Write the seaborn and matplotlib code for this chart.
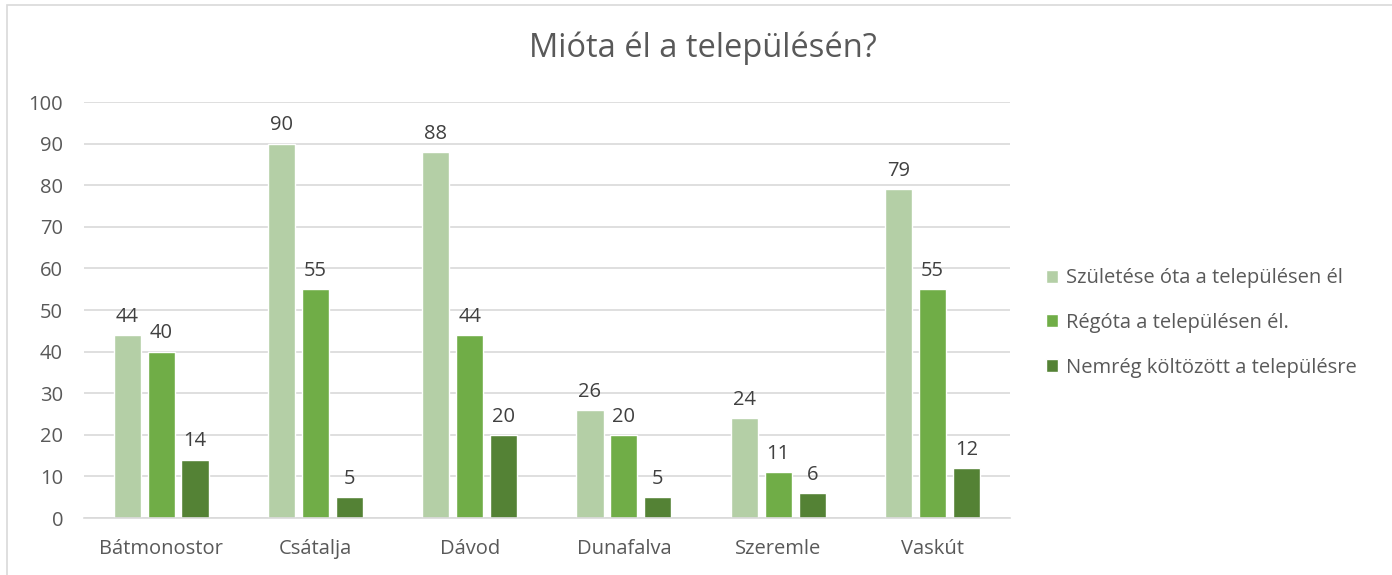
import matplotlib
matplotlib.use("Agg")
import matplotlib.pyplot as plt
import seaborn as sns
import pandas as pd
from matplotlib.patches import Rectangle

categories = ["Bátmonostor", "Csátalja", "Dávod", "Dunafalva", "Szeremle", "Vaskút"]
series_names = ["Születése óta a településen él", "Régóta a településen él.", "Nemrég költözött a településre"]
s1 = [44, 90, 88, 26, 24, 79]
s2 = [40, 55, 44, 20, 11, 55]
s3 = [14, 5, 20, 5, 6, 12]
colors = ["#B4CFA6", "#70AD47", "#548235"]

rows = []
for name, vals in zip(series_names, [s1, s2, s3]):
    for c, v in zip(categories, vals):
        rows.append({"cat": c, "series": name, "val": v})
df = pd.DataFrame(rows)

sns.set_theme(style="white")
plt.rcParams["font.family"] = ["Open Sans", "DejaVu Sans"]

fig = plt.figure(figsize=(13.92, 5.75), dpi=100)
ax = fig.add_axes([0.0603, 0.099, 0.665, 0.7236])

sns.barplot(data=df, x="cat", y="val", hue="series", order=categories,
            hue_order=series_names, palette=colors, width=0.66, gap=0.2,
            ax=ax, saturation=1, legend=True)

FS = 14.5
ax.set_ylim(0, 100)
ax.set_yticks(range(0, 101, 10))
ax.yaxis.grid(True, color="#D9D9D9", linewidth=1.2)
ax.set_axisbelow(True)
for s in ["top", "right", "left"]:
    ax.spines[s].set_visible(False)
ax.spines["bottom"].set_color("#D9D9D9")
ax.spines["bottom"].set_linewidth(1.2)
ax.set_xlabel("")
ax.set_ylabel("")
ax.tick_params(axis="both", length=0, labelsize=FS, labelcolor="#595959")
ax.tick_params(axis="y", pad=15)
ax.tick_params(axis="x", pad=15)

for cont in ax.containers:
    ax.bar_label(cont, padding=6, fontsize=FS, color="#404040")

fig.text(703 / 1392, 1 - 48 / 575, "Mióta él a településén?", fontsize=23.5,
         color="#595959", ha="center", va="center")

leg = ax.legend(loc="center left", bbox_to_anchor=(1.02, 0.469), frameon=False,
                fontsize=FS, labelspacing=1.22, handlelength=0.6, handleheight=0.6,
                handletextpad=0.4)
for t in leg.get_texts():
    t.set_color("#595959")

fig.patches.append(Rectangle((7 / 1392, -0.1), 1.2, 1.1 - 5 / 575, transform=fig.transFigure,
                             fill=False, edgecolor="#D9D9D9", linewidth=1.2))

fig.savefig("out.png", dpi=100)
